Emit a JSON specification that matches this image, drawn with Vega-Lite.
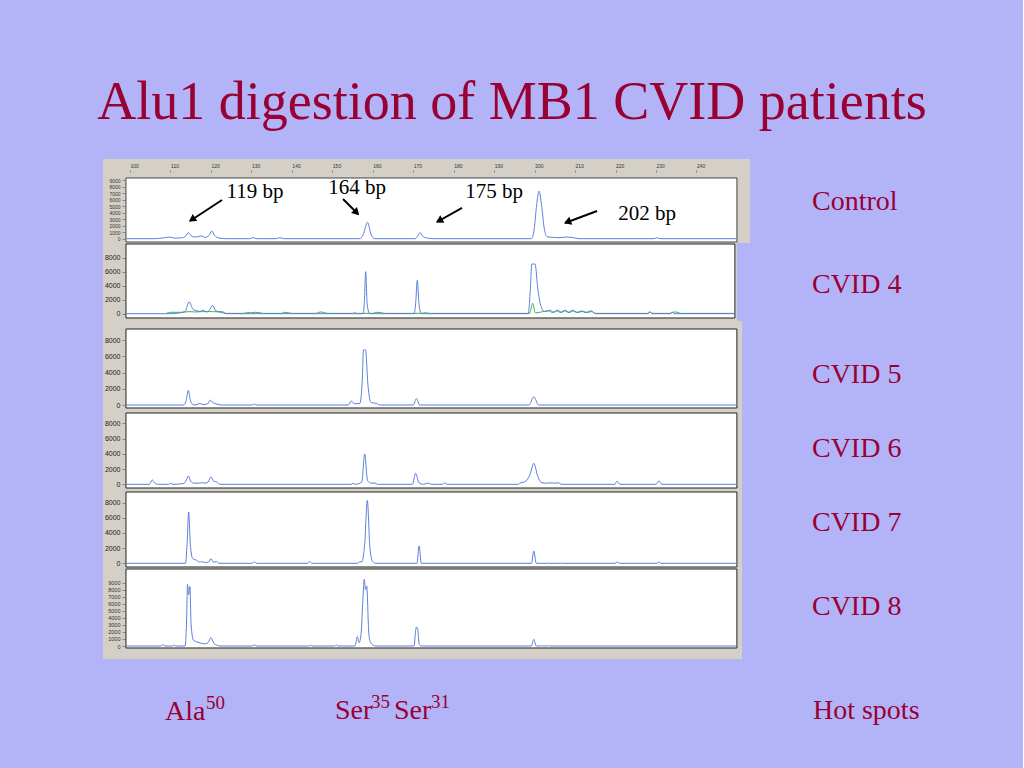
{
  "$schema": "https://vega.github.io/schema/vega-lite/v6.json",
  "background": "#b3b4f8",
  "padding": {"left": 97, "top": 76, "right": 96, "bottom": 44},
  "spacing": 0,
  "bounds": "flush",
  "config": {"view": {"stroke": null, "fill": "#d4d0c8"}, "font": "Liberation Serif"},
  "vconcat": [
    {
      "width": 647, "height": 84,
      "layer": [
        {"data": {"values": [{"bp":99.0,"bp2":250.0,"v":9310,"v2":-506}]},
         "mark": {"type": "rect", "fill": "white", "stroke": "#444", "strokeWidth": 1},
         "encoding": {"x": {"field": "bp", "type": "quantitative"}, "x2": {"field": "bp2"}, "y": {"field": "v", "type": "quantitative"}, "y2": {"field": "v2"}}},
        {"data": {"values": [
          {"bp":99.1,"v":0},{"bp":106,"v":0},{"bp":108,"v":100},{"bp":109.9,"v":250},{"bp":111,"v":80},{"bp":113,"v":150},{"bp":113.8,"v":450},{"bp":114.4,"v":920},{"bp":115.1,"v":450},{"bp":116,"v":250},{"bp":117.7,"v":420},{"bp":118.5,"v":200},{"bp":119.5,"v":500},{"bp":120.2,"v":1180},{"bp":120.9,"v":500},{"bp":122,"v":100},{"bp":124,"v":0},{"bp":129.5,"v":0},{"bp":130.4,"v":150},{"bp":131.3,"v":0},{"bp":136,"v":0},{"bp":137,"v":150},{"bp":138,"v":0},{"bp":156.8,"v":0},{"bp":157.6,"v":600},{"bp":158.7,"v":2500},{"bp":159.6,"v":600},{"bp":160.5,"v":0},{"bp":170.5,"v":0},{"bp":171.1,"v":400},{"bp":171.7,"v":900},{"bp":172.4,"v":350},{"bp":173.5,"v":100},{"bp":175,"v":0},{"bp":199.2,"v":0},{"bp":199.9,"v":1500},{"bp":200.5,"v":5200},{"bp":201.1,"v":7300},{"bp":201.7,"v":5200},{"bp":202.4,"v":1500},{"bp":203.1,"v":300},{"bp":204.5,"v":200},{"bp":206,"v":150},{"bp":207.5,"v":250},{"bp":209.4,"v":180},{"bp":211,"v":0},{"bp":229.5,"v":0},{"bp":230.2,"v":150},{"bp":231,"v":0},{"bp":250,"v":0}
         ]},
         "mark": {"type": "line", "color": "#5b7fdb", "strokeWidth": 1, "interpolate": "monotone"},
         "encoding": {
           "x": {"field": "bp", "type": "quantitative", "scale": {"domain": [93.32, 253.23], "nice": false, "zero": false},
                 "axis": {"orient": "top", "values": [100,110,120,130,140,150,160,170,180,190,200,210,220,230,240], "tickCount": 40, "format": "d", "offset": -13, "tickSize": 2, "domain": false, "grid": false, "title": null, "labelAlign": "left", "labelFont": "Liberation Sans", "labelFontSize": 5, "labelColor": "#333", "labelOverlap": false}},
           "y": {"field": "v", "type": "quantitative", "scale": {"domain": [-660, 12224], "nice": false, "zero": false},
                 "axis": {"values": [0,1000,2000,3000,4000,5000,6000,7000,8000,9000], "tickCount": 40, "format": "d", "offset": -22, "tickSize": 3, "domain": false, "grid": false, "title": null, "labelFont": "Liberation Sans", "labelFontSize": 5, "labelColor": "#333", "labelOverlap": false}}
         }},
        {"data": {"values": [
          {"bp":122.73,"v":5936,"bp2":114.82,"v2":2715},
          {"bp":152.64,"v":6089,"bp2":156.35,"v2":3788},
          {"bp":182.05,"v":4709,"bp2":175.87,"v2":2561},
          {"bp":215.42,"v":4248,"bp2":207.51,"v2":2408}
         ]},
         "mark": {"type": "rule", "color": "black", "strokeWidth": 2},
         "encoding": {"x": {"field": "bp", "type": "quantitative"}, "y": {"field": "v", "type": "quantitative"}, "x2": {"field": "bp2"}, "y2": {"field": "v2"}}},
        {"data": {"values": [{"bp":115.3,"v":2950}]},
         "mark": {"type": "point", "shape": "triangle-up", "angle": 237, "filled": true, "color": "black", "size": 70, "opacity": 1},
         "encoding": {"x": {"field": "bp", "type": "quantitative"}, "y": {"field": "v", "type": "quantitative"}}},
        {"data": {"values": [{"bp":156.0,"v":4000}]},
         "mark": {"type": "point", "shape": "triangle-up", "angle": 135, "filled": true, "color": "black", "size": 70, "opacity": 1},
         "encoding": {"x": {"field": "bp", "type": "quantitative"}, "y": {"field": "v", "type": "quantitative"}}},
        {"data": {"values": [{"bp":176.4,"v":2750}]},
         "mark": {"type": "point", "shape": "triangle-up", "angle": 241, "filled": true, "color": "black", "size": 70, "opacity": 1},
         "encoding": {"x": {"field": "bp", "type": "quantitative"}, "y": {"field": "v", "type": "quantitative"}}},
        {"data": {"values": [{"bp":208.1,"v":2550}]},
         "mark": {"type": "point", "shape": "triangle-up", "angle": 249, "filled": true, "color": "black", "size": 70, "opacity": 1},
         "encoding": {"x": {"field": "bp", "type": "quantitative"}, "y": {"field": "v", "type": "quantitative"}}},
        {"data": {"values": [
          {"label":"119 bp","bp":130.9,"v":6242},
          {"label":"164 bp","bp":156.1,"v":6856},
          {"label":"175 bp","bp":190.0,"v":6242},
          {"label":"202 bp","bp":227.8,"v":2868}
         ]},
         "mark": {"type": "text", "fontSize": 21, "color": "black", "align": "center", "baseline": "alphabetic"},
         "encoding": {"x": {"field": "bp", "type": "quantitative"}, "y": {"field": "v", "type": "quantitative"}, "text": {"field": "label", "type": "nominal"}}},
        {"data": {"values": [{"label":"Alu1 digestion of MB1 CVID patients","bp":194.41,"v":18359}]},
         "mark": {"type": "text", "fontSize": 54, "color": "#990033", "align": "center", "baseline": "alphabetic"},
         "encoding": {"x": {"field": "bp", "type": "quantitative"}, "y": {"field": "v", "type": "quantitative"}, "text": {"field": "label", "type": "nominal"}}},
        {"data": {"values": [{"label":"Control","bp":268.55,"v":4402}]},
         "mark": {"type": "text", "fontSize": 28, "color": "#990033", "align": "left", "baseline": "alphabetic"},
         "encoding": {"x": {"field": "bp", "type": "quantitative"}, "y": {"field": "v", "type": "quantitative"}, "text": {"field": "label", "type": "nominal"}}}
      ]
    },
    {
      "width": 634, "height": 78,
      "layer": [
        {"data": {"values": [{"bp":99.0,"bp2":249.5,"v":9957,"v2":-614}]},
         "mark": {"type": "rect", "fill": "white", "stroke": "#222", "strokeWidth": 1},
         "encoding": {"x": {"field": "bp", "type": "quantitative", "axis": null}, "x2": {"field": "bp2"}, "y": {"field": "v", "type": "quantitative"}, "y2": {"field": "v2"}}},
        {"data": {"values": [
          {"bp":109,"v":50},{"bp":110,"v":200},{"bp":113,"v":200},{"bp":114.6,"v":300},{"bp":116,"v":250},{"bp":118,"v":300},{"bp":120.4,"v":300},{"bp":122,"v":250},{"bp":123.5,"v":50},{"bp":128,"v":50},{"bp":129,"v":150},{"bp":130,"v":150},{"bp":131,"v":200},{"bp":132,"v":150},{"bp":133,"v":50},{"bp":137.5,"v":50},{"bp":138,"v":200},{"bp":139,"v":150},{"bp":140,"v":50},{"bp":146,"v":50},{"bp":147,"v":250},{"bp":148,"v":150},{"bp":149,"v":50},{"bp":155,"v":50},{"bp":155.5,"v":200},{"bp":156,"v":50},{"bp":160,"v":50},{"bp":161,"v":200},{"bp":162,"v":150},{"bp":163,"v":50},{"bp":172,"v":50},{"bp":173,"v":150},{"bp":174,"v":50},{"bp":198.8,"v":50},{"bp":199.5,"v":1500},{"bp":200.2,"v":100},{"bp":202,"v":300},{"bp":203.5,"v":400},{"bp":204.5,"v":150},{"bp":205.5,"v":400},{"bp":206.5,"v":150},{"bp":207.5,"v":400},{"bp":208.5,"v":150},{"bp":209.5,"v":400},{"bp":210.5,"v":150},{"bp":212,"v":350},{"bp":213,"v":150},{"bp":214,"v":300},{"bp":215,"v":50},{"bp":228,"v":50},{"bp":228.5,"v":250},{"bp":229,"v":50},{"bp":233.5,"v":50},{"bp":234,"v":200},{"bp":235,"v":250},{"bp":236,"v":50},{"bp":249.5,"v":50}
         ]},
         "mark": {"type": "line", "color": "#3cb44b", "strokeWidth": 1, "interpolate": "monotone"},
         "encoding": {
           "x": {"field": "bp", "type": "quantitative", "scale": {"domain": [93.32, 250.02], "nice": false, "zero": false}, "axis": null},
           "y": {"field": "v", "type": "quantitative", "scale": {"domain": [-1043, 10100], "nice": false, "zero": false},
                 "axis": {"values": [0,2000,4000,6000,8000], "tickCount": 40, "format": "d", "offset": -22, "tickSize": 3, "domain": false, "grid": false, "title": null, "labelFont": "Liberation Sans", "labelFontSize": 7, "labelColor": "#222", "labelOverlap": false}}
         }},
        {"data": {"values": [
          {"bp":99.1,"v":0},{"bp":110,"v":0},{"bp":113.6,"v":300},{"bp":114.6,"v":1700},{"bp":115.6,"v":600},{"bp":116.5,"v":450},{"bp":117.3,"v":300},{"bp":118.1,"v":500},{"bp":118.9,"v":250},{"bp":119.6,"v":500},{"bp":120.4,"v":1200},{"bp":121.2,"v":400},{"bp":122.2,"v":300},{"bp":123,"v":250},{"bp":123.8,"v":0},{"bp":157.6,"v":0},{"bp":157.9,"v":1500},{"bp":158.25,"v":6000},{"bp":158.6,"v":1500},{"bp":159.2,"v":0},{"bp":170.2,"v":0},{"bp":170.6,"v":1500},{"bp":171,"v":4770},{"bp":171.4,"v":1500},{"bp":172,"v":0},{"bp":198.4,"v":0},{"bp":198.9,"v":3000},{"bp":199.3,"v":7100},{"bp":200.1,"v":7100},{"bp":200.8,"v":3500},{"bp":201.6,"v":1000},{"bp":202.5,"v":300},{"bp":203.7,"v":500},{"bp":204.7,"v":250},{"bp":205.7,"v":500},{"bp":206.6,"v":250},{"bp":207.4,"v":500},{"bp":208.4,"v":250},{"bp":209.4,"v":500},{"bp":210.5,"v":200},{"bp":211.6,"v":400},{"bp":212.5,"v":150},{"bp":213.5,"v":350},{"bp":214.1,"v":400},{"bp":215,"v":0},{"bp":228,"v":0},{"bp":228.4,"v":300},{"bp":229,"v":0},{"bp":233.5,"v":0},{"bp":234,"v":200},{"bp":234.6,"v":0},{"bp":249.5,"v":0}
         ]},
         "mark": {"type": "line", "color": "#5b7fdb", "strokeWidth": 1, "interpolate": "monotone"},
         "encoding": {"x": {"field": "bp", "type": "quantitative", "axis": null}, "y": {"field": "v", "type": "quantitative"}}},
        {"data": {"values": [{"label":"CVID 4","bp":268.55,"v":2957}]},
         "mark": {"type": "text", "fontSize": 28, "color": "#990033", "align": "left", "baseline": "alphabetic"},
         "encoding": {"x": {"field": "bp", "type": "quantitative", "axis": null}, "y": {"field": "v", "type": "quantitative"}, "text": {"field": "label", "type": "nominal"}}}
      ]
    },
    {
      "width": 639, "height": 89,
      "layer": [
        {"data": {"values": [{"bp":99.0,"bp2":250.0,"v":9383,"v2":-370}]},
         "mark": {"type": "rect", "fill": "white", "stroke": "#222", "strokeWidth": 1},
         "encoding": {"x": {"field": "bp", "type": "quantitative", "axis": null}, "x2": {"field": "bp2"}, "y": {"field": "v", "type": "quantitative"}, "y2": {"field": "v2"}}},
        {"data": {"values": [
          {"bp":99.1,"v":0},{"bp":113.2,"v":0},{"bp":113.8,"v":400},{"bp":114.4,"v":1800},{"bp":115,"v":400},{"bp":115.8,"v":0},{"bp":116.8,"v":100},{"bp":117.3,"v":200},{"bp":118,"v":50},{"bp":119.2,"v":150},{"bp":119.8,"v":600},{"bp":120.5,"v":300},{"bp":121.5,"v":100},{"bp":122.5,"v":0},{"bp":130.2,"v":0},{"bp":130.7,"v":120},{"bp":131.2,"v":0},{"bp":154,"v":0},{"bp":154.7,"v":500},{"bp":155.4,"v":150},{"bp":156.8,"v":200},{"bp":157.4,"v":3000},{"bp":157.7,"v":6800},{"bp":158.2,"v":6800},{"bp":158.8,"v":2500},{"bp":159.6,"v":300},{"bp":160.9,"v":200},{"bp":161.8,"v":0},{"bp":170,"v":0},{"bp":170.8,"v":800},{"bp":171.6,"v":0},{"bp":198.6,"v":0},{"bp":199.8,"v":1000},{"bp":201,"v":0},{"bp":250,"v":0}
         ]},
         "mark": {"type": "line", "color": "#5b7fdb", "strokeWidth": 1, "interpolate": "monotone"},
         "encoding": {
           "x": {"field": "bp", "type": "quantitative", "scale": {"domain": [93.32, 251.26], "nice": false, "zero": false}, "axis": null},
           "y": {"field": "v", "type": "quantitative", "scale": {"domain": [-617, 10370], "nice": false, "zero": false},
                 "axis": {"values": [0,2000,4000,6000,8000], "tickCount": 40, "format": "d", "offset": -22, "tickSize": 3, "domain": false, "grid": false, "title": null, "labelFont": "Liberation Sans", "labelFontSize": 7, "labelColor": "#222", "labelOverlap": false}}
         }},
        {"data": {"values": [{"label":"CVID 5","bp":268.55,"v":2716}]},
         "mark": {"type": "text", "fontSize": 28, "color": "#990033", "align": "left", "baseline": "alphabetic"},
         "encoding": {"x": {"field": "bp", "type": "quantitative", "axis": null}, "y": {"field": "v", "type": "quantitative"}, "text": {"field": "label", "type": "nominal"}}}
      ]
    },
    {
      "width": 639, "height": 80,
      "layer": [
        {"data": {"values": [{"bp":99.0,"bp2":250.0,"v":9382,"v2":-487}]},
         "mark": {"type": "rect", "fill": "white", "stroke": "#222", "strokeWidth": 1},
         "encoding": {"x": {"field": "bp", "type": "quantitative", "axis": null}, "x2": {"field": "bp2"}, "y": {"field": "v", "type": "quantitative"}, "y2": {"field": "v2"}}},
        {"data": {"values": [
          {"bp":99.1,"v":0},{"bp":104.8,"v":0},{"bp":105.5,"v":570},{"bp":106.2,"v":100},{"bp":107,"v":0},{"bp":109.5,"v":0},{"bp":110,"v":130},{"bp":110.6,"v":0},{"bp":113.2,"v":100},{"bp":113.8,"v":400},{"bp":114.4,"v":1100},{"bp":115,"v":400},{"bp":115.8,"v":150},{"bp":117.2,"v":150},{"bp":117.7,"v":220},{"bp":118.4,"v":150},{"bp":119.3,"v":300},{"bp":120,"v":1000},{"bp":120.7,"v":400},{"bp":121.4,"v":300},{"bp":122.2,"v":0},{"bp":154.7,"v":0},{"bp":155.1,"v":130},{"bp":155.6,"v":0},{"bp":157.3,"v":300},{"bp":158,"v":4000},{"bp":158.7,"v":500},{"bp":159.6,"v":150},{"bp":160.6,"v":150},{"bp":161.2,"v":0},{"bp":169.8,"v":0},{"bp":170.6,"v":1450},{"bp":171.4,"v":200},{"bp":172.5,"v":0},{"bp":173.7,"v":170},{"bp":174.5,"v":0},{"bp":177.3,"v":0},{"bp":177.8,"v":220},{"bp":178.3,"v":0},{"bp":196,"v":0},{"bp":196.3,"v":170},{"bp":197.5,"v":300},{"bp":198.8,"v":1200},{"bp":199.8,"v":2760},{"bp":200.8,"v":1000},{"bp":201.8,"v":200},{"bp":203,"v":150},{"bp":204,"v":200},{"bp":205,"v":150},{"bp":206,"v":200},{"bp":206.5,"v":0},{"bp":219.8,"v":0},{"bp":220.4,"v":400},{"bp":221.1,"v":0},{"bp":230,"v":0},{"bp":230.7,"v":440},{"bp":231.5,"v":0},{"bp":250,"v":0}
         ]},
         "mark": {"type": "line", "color": "#5b7fdb", "strokeWidth": 1, "interpolate": "monotone"},
         "encoding": {
           "x": {"field": "bp", "type": "quantitative", "scale": {"domain": [93.32, 251.26], "nice": false, "zero": false}, "axis": null},
           "y": {"field": "v", "type": "quantitative", "scale": {"domain": [-750, 9776], "nice": false, "zero": false},
                 "axis": {"values": [0,2000,4000,6000,8000], "tickCount": 40, "format": "d", "offset": -22, "tickSize": 3, "domain": false, "grid": false, "title": null, "labelFont": "Liberation Sans", "labelFontSize": 7, "labelColor": "#222", "labelOverlap": false}}
         }},
        {"data": {"values": [{"label":"CVID 6","bp":268.55,"v":3592}]},
         "mark": {"type": "text", "fontSize": 28, "color": "#990033", "align": "left", "baseline": "alphabetic"},
         "encoding": {"x": {"field": "bp", "type": "quantitative", "axis": null}, "y": {"field": "v", "type": "quantitative"}, "text": {"field": "label", "type": "nominal"}}}
      ]
    },
    {
      "width": 639, "height": 78,
      "layer": [
        {"data": {"values": [{"bp":99.0,"bp2":250.0,"v":9406,"v2":-488}]},
         "mark": {"type": "rect", "fill": "white", "stroke": "#222", "strokeWidth": 1},
         "encoding": {"x": {"field": "bp", "type": "quantitative", "axis": null}, "x2": {"field": "bp2"}, "y": {"field": "v", "type": "quantitative"}, "y2": {"field": "v2"}}},
        {"data": {"values": [
          {"bp":99.1,"v":0},{"bp":113.7,"v":0},{"bp":114.1,"v":2500},{"bp":114.5,"v":6770},{"bp":114.9,"v":2500},{"bp":115.5,"v":600},{"bp":116.5,"v":400},{"bp":117.2,"v":150},{"bp":117.7,"v":220},{"bp":118.4,"v":100},{"bp":119.5,"v":200},{"bp":120,"v":620},{"bp":120.6,"v":150},{"bp":121.4,"v":220},{"bp":122,"v":0},{"bp":130.2,"v":0},{"bp":130.7,"v":220},{"bp":131.2,"v":0},{"bp":143.8,"v":0},{"bp":144.4,"v":220},{"bp":145,"v":0},{"bp":156.3,"v":0},{"bp":156.8,"v":220},{"bp":157.3,"v":200},{"bp":158,"v":2500},{"bp":158.65,"v":8300},{"bp":159.3,"v":2000},{"bp":160,"v":200},{"bp":160.8,"v":0},{"bp":170.9,"v":0},{"bp":171.45,"v":2290},{"bp":172,"v":0},{"bp":199.2,"v":0},{"bp":199.8,"v":1630},{"bp":200.4,"v":0},{"bp":203.1,"v":0},{"bp":203.3,"v":80},{"bp":203.5,"v":0},{"bp":206.6,"v":0},{"bp":206.8,"v":80},{"bp":207,"v":0},{"bp":219.9,"v":0},{"bp":220.4,"v":180},{"bp":221,"v":0},{"bp":230.2,"v":0},{"bp":230.7,"v":180},{"bp":231.2,"v":0},{"bp":250,"v":0}
         ]},
         "mark": {"type": "line", "color": "#5b7fdb", "strokeWidth": 1, "interpolate": "monotone"},
         "encoding": {
           "x": {"field": "bp", "type": "quantitative", "scale": {"domain": [93.32, 251.26], "nice": false, "zero": false}, "axis": null},
           "y": {"field": "v", "type": "quantitative", "scale": {"domain": [-620, 9670], "nice": false, "zero": false},
                 "axis": {"values": [0,2000,4000,6000,8000], "tickCount": 40, "format": "d", "offset": -22, "tickSize": 3, "domain": false, "grid": false, "title": null, "labelFont": "Liberation Sans", "labelFontSize": 7, "labelColor": "#222", "labelOverlap": false}}
         }},
        {"data": {"values": [{"label":"CVID 7","bp":268.55,"v":4261}]},
         "mark": {"type": "text", "fontSize": 28, "color": "#990033", "align": "left", "baseline": "alphabetic"},
         "encoding": {"x": {"field": "bp", "type": "quantitative", "axis": null}, "y": {"field": "v", "type": "quantitative"}, "text": {"field": "label", "type": "nominal"}}}
      ]
    },
    {
      "width": 639, "height": 91,
      "layer": [
        {"data": {"values": [{"bp":99.0,"bp2":250.0,"v":10953,"v2":-284}]},
         "mark": {"type": "rect", "fill": "white", "stroke": "#222", "strokeWidth": 1},
         "encoding": {"x": {"field": "bp", "type": "quantitative", "axis": null}, "x2": {"field": "bp2"}, "y": {"field": "v", "type": "quantitative"}, "y2": {"field": "v2"}}},
        {"data": {"values": [
          {"bp":99.1,"v":0},{"bp":107.6,"v":0},{"bp":108.1,"v":190},{"bp":108.6,"v":0},{"bp":110.5,"v":0},{"bp":110.9,"v":140},{"bp":111.3,"v":0},{"bp":113.6,"v":0},{"bp":114,"v":4000},{"bp":114.2,"v":8770},{"bp":114.5,"v":7300},{"bp":114.8,"v":8440},{"bp":115.1,"v":3000},{"bp":115.7,"v":800},{"bp":116.5,"v":600},{"bp":117.5,"v":400},{"bp":118.5,"v":300},{"bp":119.3,"v":500},{"bp":120,"v":1190},{"bp":120.7,"v":400},{"bp":121.4,"v":150},{"bp":122,"v":0},{"bp":130.2,"v":0},{"bp":130.7,"v":190},{"bp":131.2,"v":0},{"bp":144.2,"v":0},{"bp":144.6,"v":110},{"bp":145,"v":0},{"bp":150.6,"v":0},{"bp":151,"v":140},{"bp":151.4,"v":0},{"bp":155.6,"v":0},{"bp":156.2,"v":1330},{"bp":156.6,"v":470},{"bp":157.1,"v":1660},{"bp":157.5,"v":6000},{"bp":157.9,"v":9480},{"bp":158.2,"v":8000},{"bp":158.5,"v":8530},{"bp":159,"v":2000},{"bp":159.3,"v":700},{"bp":160,"v":150},{"bp":160.8,"v":0},{"bp":170.2,"v":0},{"bp":170.6,"v":2200},{"bp":170.8,"v":2700},{"bp":171.1,"v":2400},{"bp":171.5,"v":200},{"bp":171.9,"v":0},{"bp":199.2,"v":0},{"bp":199.8,"v":950},{"bp":200.4,"v":0},{"bp":201.6,"v":0},{"bp":201.8,"v":100},{"bp":202,"v":0},{"bp":203.3,"v":0},{"bp":203.5,"v":100},{"bp":203.7,"v":0},{"bp":250,"v":0}
         ]},
         "mark": {"type": "line", "color": "#5b7fdb", "strokeWidth": 1, "interpolate": "monotone"},
         "encoding": {
           "x": {"field": "bp", "type": "quantitative", "scale": {"domain": [93.32, 251.26], "nice": false, "zero": false}, "axis": null},
           "y": {"field": "v", "type": "quantitative", "scale": {"domain": [-1849, 11095], "nice": false, "zero": false},
                 "axis": {"values": [0,1000,2000,3000,4000,5000,6000,7000,8000,9000], "tickCount": 40, "format": "d", "offset": -22, "tickSize": 3, "domain": false, "grid": false, "title": null, "labelFont": "Liberation Sans", "labelFontSize": 5.5, "labelColor": "#333", "labelOverlap": false}}
         }},
        {"data": {"values": [
          {"label":"CVID 8","bp":268.55,"v":4410},
          {"label":"Hot spots","bp":268.8,"v":-10384},
          {"label":"Ala","bp":108.64,"v":-10526},
          {"label":"Ser","bp":150.66,"v":-10384},
          {"label":"Ser","bp":165.24,"v":-10384}
         ]},
         "mark": {"type": "text", "fontSize": 28, "color": "#990033", "align": "left", "baseline": "alphabetic"},
         "encoding": {"x": {"field": "bp", "type": "quantitative", "axis": null}, "y": {"field": "v", "type": "quantitative"}, "text": {"field": "label", "type": "nominal"}}},
        {"data": {"values": [
          {"label":"50","bp":118.77,"v":-8962},
          {"label":"35","bp":159.56,"v":-8819},
          {"label":"31","bp":174.39,"v":-8819}
         ]},
         "mark": {"type": "text", "fontSize": 19, "color": "#990033", "align": "left", "baseline": "alphabetic"},
         "encoding": {"x": {"field": "bp", "type": "quantitative", "axis": null}, "y": {"field": "v", "type": "quantitative"}, "text": {"field": "label", "type": "nominal"}}}
      ]
    }
  ]
}
